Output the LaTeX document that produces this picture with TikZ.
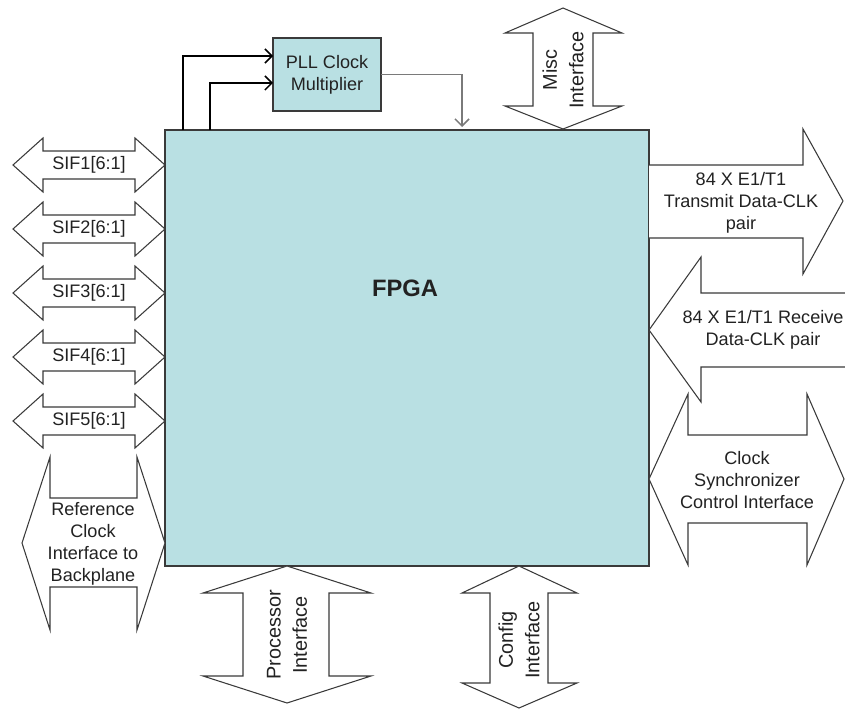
\documentclass[tikz,border=0pt]{standalone}
\usepackage{fontspec}
\setmainfont{Liberation Sans}
\usepackage{tikz}
\usetikzlibrary{arrows.meta,calc,positioning}
\definecolor{chip}{HTML}{B9E0E3}
\definecolor{ink}{HTML}{222222}
\definecolor{edge}{HTML}{3A3A3A}
\definecolor{wire}{HTML}{7A7A7A}

\begin{document}
\begin{tikzpicture}[x=0.02cm,y=-0.02cm,line join=miter,
  every node/.style={font=\fontsize{10.3}{12.4}\selectfont,text=ink,align=center,inner sep=0pt},
  port/.style={draw=edge,fill=white,line width=0.6pt},
  vlbl/.style={rotate=90,font=\fontsize{11.3}{15}\selectfont},
  block/.style={draw=edge,fill=chip,line width=1.1pt,outer sep=0pt},
  clk/.style={line width=0.9pt,-{Straight Barb[length=4pt,width=8pt]}}]
  \useasboundingbox (0,0) rectangle (845,710);

  % main device and the clock multiplier
  \node[block,anchor=north west,minimum width=9.68cm,minimum height=8.72cm] (fpga) at (165,130) {};
  \node[font=\fontsize{13.5}{15}\selectfont\bfseries] (fpgalbl) at (405,288) {FPGA};
  \node[block,line width=0.9pt,anchor=north west,minimum width=2.16cm,minimum height=1.46cm] (pll) at (273,38) {PLL Clock\\Multiplier};

  \coordinate (tap1) at ([xshift=0.36cm]fpga.north west);
  \coordinate (tap2) at ([xshift=0.9cm]fpga.north west);
  \coordinate (drop) at (462,127);
  \draw[clk] (tap1) |- ([yshift=0.37cm]pll.west);
  \draw[clk] (tap2) |- ([yshift=-0.17cm]pll.west);
  \draw[clk,draw=wire] (pll.east) -| (drop);

  % serial interfaces
  \foreach \i in {1,...,5}{
    \pgfmathsetmacro{\yc}{165+64*(\i-1)}
    \draw[port] (13,\yc) -- (43,\yc-27) -- (43,\yc-14) -- (135,\yc-14) -- (135,\yc-27) -- (165,\yc)
      -- (135,\yc+27) -- (135,\yc+14) -- (43,\yc+14) -- (43,\yc+27) -- cycle;
    \node (sif\i) at (89,\yc) {SIF\i[6:1]};
  }

  \draw[port] (22,543) -- (50,457) -- (50,498) -- (137,498) -- (137,457) -- (165,543)
    -- (137,630) -- (137,587) -- (50,587) -- (50,630) -- cycle;
  \node (refclk) at (93,544) {Reference\\Clock\\Interface to\\Backplane};

  % E1/T1 side
  \draw[port] (649,165) -- (803,165) -- (803,129) -- (843,201) -- (803,274) -- (803,238) -- (649,238);
  \node (txlbl) at (741,203) {84 X E1/T1\\Transmit Data-CLK\\pair};
  \draw[port] (845,293) -- (701,293) -- (701,257) -- (649,330) -- (701,402) -- (701,367) -- (845,367);
  \node (rxlbl) at (763,330) {84 X E1/T1 Receive\\Data-CLK pair};

  \draw[port] (649,479) -- (688,394) -- (688,435) -- (807,435) -- (807,394) -- (844,479)
    -- (807,565) -- (807,523) -- (688,523) -- (688,565) -- cycle;
  \node (synclbl) at (747,480) {Clock\\Synchronizer\\Control Interface};

  % vertical ports
  \draw[port] (287,566) -- (371,593) -- (329,593) -- (329,676) -- (371,676) -- (287,703)
    -- (203,676) -- (243,676) -- (243,593) -- (203,593) -- cycle;
  \node[vlbl] (cpulbl) at (287,635) {Processor\\Interface};

  \draw[port] (519,566) -- (577,593) -- (548,593) -- (548,683) -- (577,683) -- (519,708)
    -- (462,683) -- (490,683) -- (490,593) -- (462,593) -- cycle;
  \node[vlbl] (cfglbl) at (519,640) {Config\\Interface};

  \draw[port] (563,8) -- (622,33) -- (593,33) -- (593,106) -- (622,106) -- (563,129)
    -- (505,106) -- (533,106) -- (533,33) -- (505,33) -- cycle;
  \node[vlbl] (misclbl) at (563,70) {Misc\\Interface};
\end{tikzpicture}
\end{document}
